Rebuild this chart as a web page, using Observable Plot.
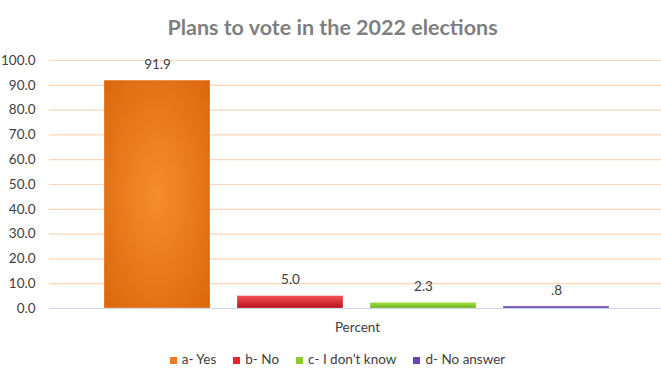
<!DOCTYPE html>
<html>
<head>
<meta charset="utf-8">
<script src="https://cdn.jsdelivr.net/npm/d3@7"></script>
<script src="https://cdn.jsdelivr.net/npm/@observablehq/plot@0.6"></script>
<style>
  html, body { margin: 0; padding: 0; background: #fff; }
  body { width: 661px; height: 381px; overflow: hidden; font-family: Lato, "Open Sans", sans-serif; }
  #title { height: 45px; text-align: center; font-size: 21.5px; font-weight: bold; color: #7f7f7f; line-height: 54px; letter-spacing: 0px; margin-left: 4px; }
  #legend { display: flex; justify-content: center; gap: 17px; font-size: 13.5px; color: #404040; height: 28px; align-items: center; margin-left: 14px; }
  #legend span.sw { display: inline-block; width: 7px; height: 7px; margin-right: 5px; vertical-align: 0px; }
  svg text { font-family: Lato, "Open Sans", sans-serif; }
</style>
</head>
<body>
<div id="title">Plans to vote in the 2022 elections</div>
<div id="chart"></div>
<div id="legend"></div>
<script>
const categories = ["a- Yes", "b- No", "c- I don\u2019t know", "d- No answer"];
const values = [91.9, 5.0, 2.3, 0.8];
const yTicks = [0, 10, 20, 30, 40, 50, 60, 70, 80, 90, 100];
const axisLabel = "Percent";
const colors = ["#f07a1a", "#e0282e", "#8ccc2c", "#6a46b4"];
const gradients = [
  {id: "g0", type: "radial", stops: [["0%", "#f68d2e"], ["100%", "#d9640a"]]},
  {id: "g1", type: "linear", stops: [["0%", "#f55257"], ["100%", "#b5121a"]]},
  {id: "g2", type: "linear", stops: [["0%", "#a6e044"], ["100%", "#6cb31c"]]},
  {id: "g3", type: "linear", stops: [["0%", "#7c55c8"], ["100%", "#5a3a9c"]]}
];

const data = categories.map((c, i) => ({cat: c, value: values[i], fill: `url(#${gradients[i].id})`,
  label: d3.format(".1f")(values[i]).replace(/^0\./, ".")}));

function defsMark() {
  const svgns = "http://www.w3.org/2000/svg";
  const g = document.createElementNS(svgns, "defs");
  for (const gr of gradients) {
    const el = document.createElementNS(svgns, gr.type === "radial" ? "radialGradient" : "linearGradient");
    el.setAttribute("id", gr.id);
    if (gr.type === "linear") { el.setAttribute("x1", "0"); el.setAttribute("y1", "0"); el.setAttribute("x2", "0"); el.setAttribute("y2", "1"); }
    else { el.setAttribute("cx", "0.5"); el.setAttribute("cy", "0.5"); el.setAttribute("r", "0.75"); }
    for (const [o, c] of gr.stops) {
      const s = document.createElementNS(svgns, "stop");
      s.setAttribute("offset", o); s.setAttribute("stop-color", c);
      el.appendChild(s);
    }
    g.appendChild(el);
  }
  return g;
}

const plot = Plot.plot({
  width: 661,
  height: 300,
  marginLeft: 49,
  marginRight: 0,
  marginTop: 15,
  marginBottom: 37,
  x: {domain: categories, range: [90, 624], paddingInner: 0.2, paddingOuter: 0.1, axis: null},
  y: {domain: [0, 100], ticks: yTicks, tickFormat: d3.format(".1f"), label: null},
  marks: [
    defsMark,
    Plot.ruleY(yTicks.filter(t => t > 0), {stroke: "#fbd6b8", strokeWidth: 1.2}),
    Plot.axisY({ticks: yTicks, tickFormat: d3.format(".1f"), tickSize: 0, tickPadding: 14, fontSize: 13.5, color: "#404040", label: null}),
    Plot.barY(data, {x: "cat", y: "value", fill: "fill", stroke: "#ffffff", strokeOpacity: 0.35, strokeWidth: 0.8}),
    Plot.ruleY([0], {stroke: "#c9d9ef", strokeWidth: 1.2}),
    Plot.text(data, {x: "cat", y: "value", text: "label", dy: -16, fontSize: 13.5, fill: "#404040"}),
    Plot.text([axisLabel], {frameAnchor: "bottom", dy: 23, dx: 2, fontSize: 13.5, fill: "#404040"})
  ]
});
document.getElementById("chart").appendChild(plot);

const legend = document.getElementById("legend");
categories.forEach((c, i) => {
  const item = document.createElement("div");
  item.innerHTML = `<span class="sw" style="background:${colors[i]}"></span>${c}`;
  legend.appendChild(item);
});
</script>
</body>
</html>
